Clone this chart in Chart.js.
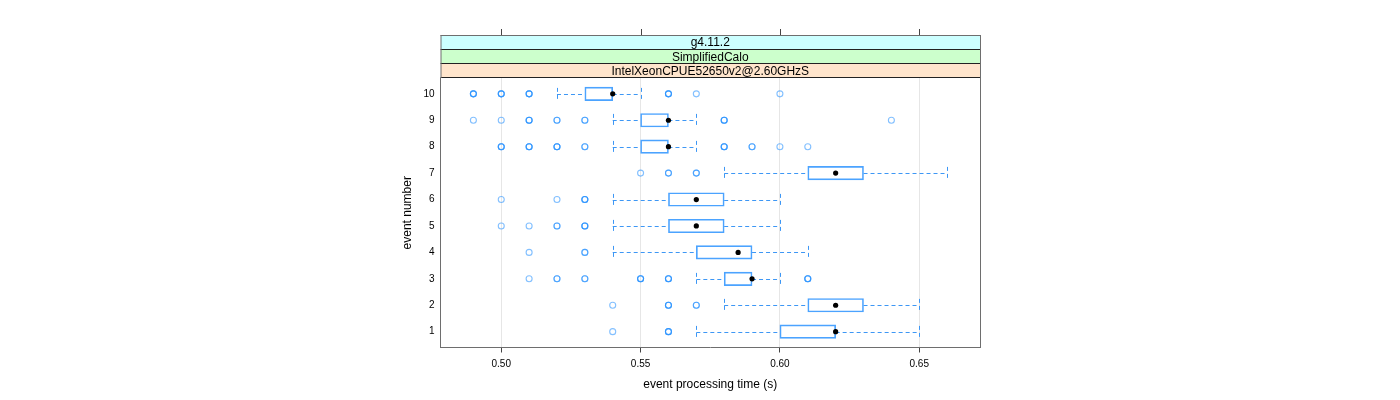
<!DOCTYPE html>
<html>
<head>
<meta charset="utf-8">
<script src="https://cdn.jsdelivr.net/npm/chart.js@4"></script>
<style>
html,body{margin:0;padding:0;background:#fff;}
#wrap{width:1400px;height:400px;position:relative;}
</style>
</head>
<body>
<div id="wrap"><canvas id="c" width="1400" height="400"></canvas></div>
<script>
// ---- data ----
const events = [1, 2, 3, 4, 5, 6, 7, 8, 9, 10];
const whiskerLow  = [0.57, 0.58, 0.57, 0.54, 0.54, 0.54, 0.58, 0.54, 0.54, 0.52];
const q1          = [0.60, 0.61, 0.58, 0.57, 0.56, 0.56, 0.61, 0.55, 0.55, 0.53];
const medians     = [0.62, 0.62, 0.59, 0.585, 0.57, 0.57, 0.62, 0.56, 0.56, 0.54];
const q3          = [0.62, 0.63, 0.59, 0.59, 0.58, 0.58, 0.63, 0.56, 0.56, 0.54];
const whiskerHigh = [0.65, 0.65, 0.60, 0.61, 0.60, 0.60, 0.66, 0.57, 0.57, 0.55];
// outlying observations (repeated values = several overlapping points)
const outliers = [
  [0.54, 0.56, 0.56, 0.56],
  [0.54, 0.56, 0.56, 0.56, 0.57, 0.57],
  [0.51, 0.52, 0.52, 0.53, 0.53, 0.55, 0.55, 0.55, 0.56, 0.56, 0.56, 0.61, 0.61, 0.61],
  [0.51, 0.53, 0.53],
  [0.50, 0.51, 0.52, 0.52, 0.53, 0.53, 0.53],
  [0.50, 0.52, 0.53, 0.53, 0.53],
  [0.55, 0.56, 0.56, 0.57, 0.57],
  [0.50, 0.50, 0.50, 0.51, 0.51, 0.51, 0.52, 0.52, 0.52, 0.53, 0.53, 0.58, 0.58, 0.58, 0.59, 0.59, 0.60, 0.61],
  [0.49, 0.50, 0.51, 0.51, 0.51, 0.52, 0.52, 0.53, 0.53, 0.58, 0.58, 0.58, 0.64],
  [0.49, 0.49, 0.49, 0.50, 0.50, 0.50, 0.51, 0.51, 0.51, 0.56, 0.56, 0.56, 0.57, 0.60]
];
const xTicks = [0.50, 0.55, 0.60, 0.65];
const stripLabels = ['g4.11.2', 'SimplifiedCalo', 'IntelXeonCPUE52650v2@2.60GHzS'];
const stripColors = ['#ccffff', '#ccffcc', '#ffe5cc'];
const xTitle = 'event processing time (s)';
const yTitle = 'event number';

// ---- build datasets ----
const boxData = events.map((e, i) => ({ y: e, x: [q1[i], q3[i]] }));
const medianData = events.map((e, i) => ({ x: medians[i], y: e }));
const outlierData = [];
events.forEach((e, i) => outliers[i].forEach(v => outlierData.push({ x: v, y: e })));

const FONT = "'Liberation Sans', Arial, Helvetica, sans-serif";

const latticePlugin = {
  id: 'lattice',
  beforeDatasetsDraw(chart) {
    const { ctx, scales: { x, y } } = chart;
    const half = 6.6;
    ctx.save();
    ctx.strokeStyle = '#3d97f5';
    ctx.lineWidth = 1;
    ctx.setLineDash([4, 3]);
    events.forEach((e, i) => {
      const py = Math.round(y.getPixelForValue(e)) + 0.5;
      const xl = x.getPixelForValue(whiskerLow[i]);
      const xa = x.getPixelForValue(q1[i]);
      const xb = x.getPixelForValue(q3[i]);
      const xh = x.getPixelForValue(whiskerHigh[i]);
      ctx.beginPath();
      ctx.moveTo(xl, py); ctx.lineTo(xa, py);
      ctx.moveTo(xb, py); ctx.lineTo(xh, py);
      ctx.moveTo(Math.round(xl) + 0.5, py - half); ctx.lineTo(Math.round(xl) + 0.5, py + half);
      ctx.moveTo(Math.round(xh) + 0.5, py - half); ctx.lineTo(Math.round(xh) + 0.5, py + half);
      ctx.stroke();
    });
    ctx.restore();
  },
  afterDraw(chart) {
    const { ctx, chartArea: a, scales: { x } } = chart;
    ctx.save();
    const top = 35.5, h = (a.top - top) / stripLabels.length;
    // strip fills
    stripLabels.forEach((lab, k) => {
      const y0 = top + k * h;
      ctx.fillStyle = stripColors[k];
      ctx.fillRect(a.left + 0.5, y0, a.right - a.left, h);
    });
    // strip separators
    ctx.strokeStyle = '#222';
    ctx.lineWidth = 1;
    ctx.beginPath();
    stripLabels.forEach((lab, k) => {
      const yy = Math.round(top + (k + 1) * h) - 0.5;
      ctx.moveTo(a.left, yy); ctx.lineTo(a.right + 1, yy);
    });
    ctx.stroke();
    // strip texts
    ctx.fillStyle = '#000';
    ctx.font = '12px ' + FONT;
    ctx.textAlign = 'center';
    ctx.textBaseline = 'middle';
    stripLabels.forEach((lab, k) => {
      const y0 = top + k * h;
      ctx.fillText(lab, (a.left + a.right) / 2, y0 + h / 2 + 0.5);
    });
    // frame top / right / left over strips
    ctx.strokeStyle = '#6e6e6e';
    ctx.beginPath();
    ctx.moveTo(a.left, 35.5); ctx.lineTo(a.right + 1, 35.5);
    ctx.moveTo(a.left + 0.5, 35); ctx.lineTo(a.left + 0.5, a.top);
    ctx.moveTo(a.right + 0.5, 35); ctx.lineTo(a.right + 0.5, a.bottom);
    ctx.stroke();
    // top ticks
    ctx.strokeStyle = '#444';
    ctx.beginPath();
    xTicks.forEach(v => {
      const px = Math.round(x.getPixelForValue(v)) + 0.5;
      ctx.moveTo(px, 29); ctx.lineTo(px, 35);
    });
    ctx.stroke();
    ctx.restore();
  }
};

new Chart(document.getElementById('c'), {
  type: 'bar',
  data: {
    datasets: [
      {
        type: 'scatter',
        label: 'median',
        data: medianData,
        pointStyle: 'circle',
        pointRadius: 2.6,
        pointHoverRadius: 2.6,
        backgroundColor: '#000',
        borderColor: '#000',
        borderWidth: 0,
        order: 0
      },
      {
        type: 'bar',
        label: 'box',
        data: boxData,
        indexAxis: 'y',
        backgroundColor: 'rgba(255,255,255,0)',
        borderColor: '#4ba3ff',
        borderWidth: 1,
        borderSkipped: false,
        barThickness: 13.5,
        grouped: false,
        order: 1
      },
      {
        type: 'scatter',
        label: 'outliers',
        data: outlierData,
        pointStyle: 'circle',
        pointRadius: 3,
        pointHoverRadius: 3,
        backgroundColor: 'rgba(0,0,0,0)',
        borderColor: 'rgba(30,140,255,0.55)',
        borderWidth: 1.1,
        order: 2
      }
    ]
  },
  options: {
    indexAxis: 'y',
    responsive: false,
    animation: false,
    events: [],
    layout: { padding: { left: 380, right: 420, top: 78, bottom: 0 } },
    plugins: { legend: { display: false }, tooltip: { enabled: false } },
    scales: {
      x: {
        type: 'linear',
        position: 'bottom',
        offset: false,
        min: 0.4782,
        max: 0.6718,
        afterBuildTicks(s) { s.ticks = xTicks.map(v => ({ value: v })); },
        afterFit(s) { s.height = 52.5; },
        ticks: {
          callback: v => Number(v).toFixed(2),
          font: { size: 10, family: FONT },
          color: '#000',
          padding: 6,
          maxRotation: 0
        },
        grid: { color: '#e6e6e6', tickColor: '#444', tickLength: 5, drawTicks: true, offset: false },
        border: { color: '#6e6e6e', width: 1 },
        title: { display: true, text: xTitle, color: '#000', font: { size: 12, family: FONT }, padding: { top: 0, bottom: 8 } }
      },
      y: {
        type: 'linear',
        position: 'left',
        offset: false,
        min: 0.4,
        max: 10.6,
        afterBuildTicks(s) { s.ticks = events.map(v => ({ value: v })); },
        afterFit(s) { s.width = 60.5; },
        ticks: {
          callback: v => String(v),
          font: { size: 10, family: FONT },
          color: '#000',
          padding: 6
        },
        grid: { display: true, drawOnChartArea: false, drawTicks: false, offset: false },
        border: { color: '#6e6e6e', width: 1 },
        title: { display: true, text: yTitle, color: '#000', font: { size: 12, family: FONT }, padding: { top: 20, bottom: 0 } }
      }
    }
  },
  plugins: [latticePlugin]
});
</script>
</body>
</html>
